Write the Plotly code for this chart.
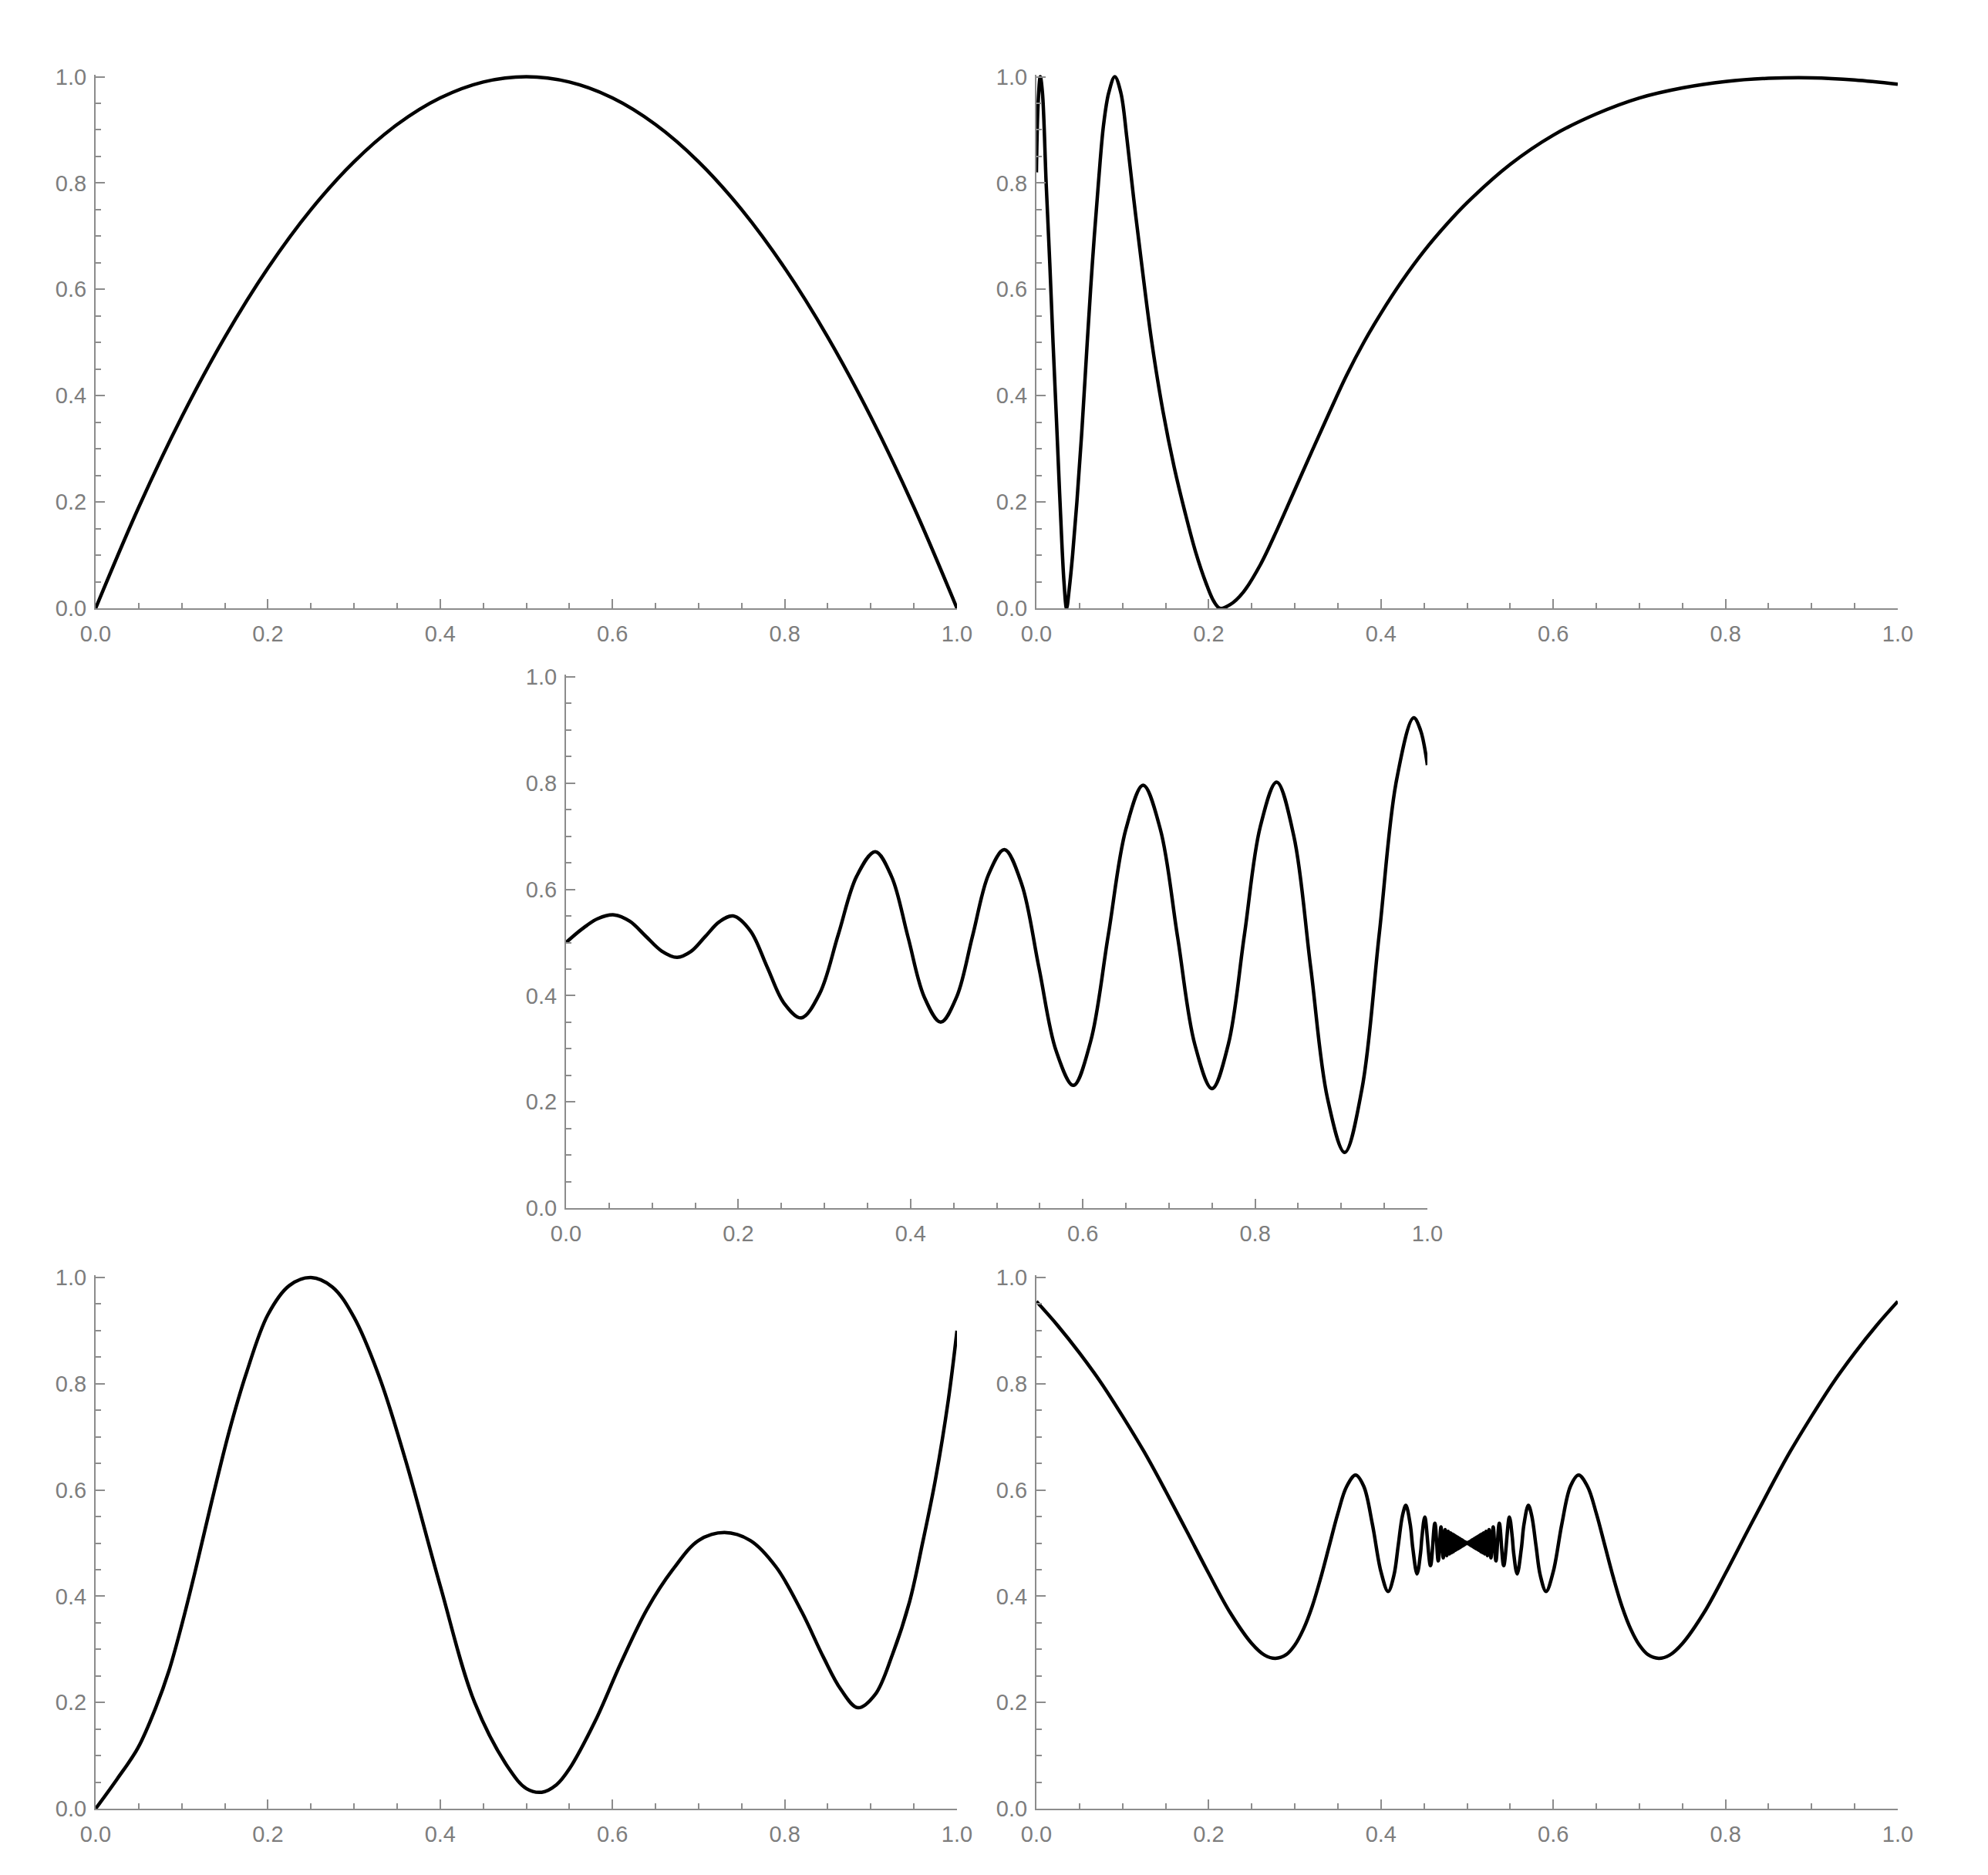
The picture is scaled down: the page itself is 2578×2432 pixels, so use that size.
import plotly.graph_objects as go

W, H = 2578, 2432          # target picture size
OFF = 8                    # page body margin
FW, FH = W - 2 * OFF, H - 2 * OFF

# ---------------- data ----------------
p1_x = [0, 0.05, 0.1, 0.15, 0.2, 0.25, 0.3, 0.35, 0.4, 0.45, 0.5,
        0.55, 0.6, 0.65, 0.7, 0.75, 0.8, 0.85, 0.9, 0.95, 1.0]
p1_y = [0, 0.19, 0.36, 0.51, 0.64, 0.75, 0.84, 0.91, 0.96, 0.99, 1.0,
        0.99, 0.96, 0.91, 0.84, 0.75, 0.64, 0.51, 0.36, 0.19, 0]

p2_x = [0, 0.002, 0.0045, 0.007, 0.0113, 0.0155, 0.0193, 0.0234, 0.0274, 0.032,
        0.035, 0.038, 0.042, 0.047, 0.053, 0.059, 0.065, 0.072, 0.078, 0.084,
        0.091, 0.098, 0.105, 0.113, 0.122, 0.134, 0.147, 0.160, 0.1726, 0.185,
        0.197, 0.206, 0.213, 0.225, 0.24, 0.26, 0.28, 0.30, 0.32, 0.34,
        0.36, 0.38, 0.40, 0.425, 0.45, 0.475, 0.5, 0.55, 0.6, 0.65, 0.7, 0.75,
        0.8, 0.85, 0.9, 0.95, 1.0]
p2_y = [0.82, 0.95, 1.0, 0.97, 0.8, 0.65, 0.5, 0.35, 0.2, 0.05,
        0.0, 0.035, 0.1, 0.2, 0.34, 0.5, 0.65, 0.8, 0.91, 0.97,
        1.0, 0.97, 0.885, 0.77, 0.65, 0.5, 0.37, 0.265, 0.18, 0.105,
        0.047, 0.013, 0.0, 0.007, 0.030, 0.082, 0.150, 0.223, 0.296, 0.368,
        0.438, 0.500, 0.555, 0.617, 0.672, 0.720, 0.763, 0.835, 0.890, 0.930,
        0.960, 0.979, 0.991, 0.997, 0.998, 0.994, 0.986]

p3_x = [0, 0.019, 0.037, 0.056, 0.074, 0.0925, 0.111, 0.129, 0.145, 0.1615,
        0.178, 0.194, 0.214, 0.2335, 0.253, 0.273, 0.2945, 0.316, 0.3375, 0.359,
        0.378, 0.397, 0.416, 0.435, 0.4535, 0.472, 0.4905, 0.509, 0.529, 0.549,
        0.569, 0.589, 0.609, 0.6295, 0.650, 0.670, 0.690, 0.710, 0.730, 0.750,
        0.769, 0.7875, 0.806, 0.825, 0.845, 0.8645, 0.884, 0.904, 0.924, 0.944,
        0.964, 0.984, 0.992, 1.0]
p3_y = [0.500, 0.526, 0.545, 0.552, 0.540, 0.512, 0.484, 0.472, 0.483, 0.511,
        0.539, 0.550, 0.522, 0.454, 0.386, 0.358, 0.404, 0.5145, 0.625, 0.671,
        0.624, 0.5105, 0.397, 0.350, 0.3975, 0.5125, 0.628, 0.675, 0.610, 0.453,
        0.296, 0.231, 0.3135, 0.5135, 0.7135, 0.796, 0.713, 0.5105, 0.308, 0.225,
        0.309, 0.5135, 0.718, 0.802, 0.700, 0.4535, 0.207, 0.105, 0.224, 0.514,
        0.804, 0.923, 0.900, 0.834]

p4_x = [0, 0.025, 0.049, 0.07, 0.085, 0.1, 0.115, 0.135, 0.155, 0.175, 0.2,
        0.225, 0.25, 0.275, 0.3, 0.33, 0.36, 0.4, 0.44, 0.48, 0.5, 0.518, 0.535,
        0.55, 0.58, 0.61, 0.64, 0.67, 0.70, 0.73, 0.76, 0.79, 0.82, 0.845,
        0.865, 0.885, 0.905, 0.925, 0.945, 0.96, 0.975, 0.99, 1.0]
p4_y = [0, 0.056, 0.114, 0.191, 0.259, 0.346, 0.443, 0.58, 0.71, 0.82, 0.93,
        0.985, 1.0, 0.982, 0.925, 0.81, 0.655, 0.42, 0.2, 0.075, 0.038, 0.031, 0.045,
        0.075, 0.165, 0.275, 0.375, 0.45, 0.505, 0.52, 0.505, 0.455, 0.37, 0.285,
        0.225, 0.19, 0.215, 0.29, 0.39, 0.5, 0.62, 0.77, 0.9]

p5_x = [0, 0.025, 0.05, 0.075, 0.1, 0.125, 0.15, 0.175, 0.2, 0.225, 0.25, 0.265,
        0.2775, 0.29, 0.30, 0.31, 0.32, 0.33, 0.34, 0.35, 0.36,
        0.3706, 0.38, 0.39, 0.40, 0.4083, 0.415, 0.42, 0.425, 0.4289, 0.434,
        0.437, 0.4419, 0.446, 0.4475, 0.4509, 0.4575, 0.4626, 0.4665, 0.4697,
        0.4723, 0.4745, 0.4764, 0.4780, 0.4795, 0.4807, 0.4818, 0.4828, 0.4837,
        0.4845, 0.4852, 0.4859, 0.4865, 0.4870, 0.4875, 0.4880, 0.4884, 0.4888,
        0.4892, 0.4896, 0.4905, 0.491, 0.4915, 0.492, 0.4925, 0.493, 0.4935,
        0.494, 0.4945, 0.495, 0.4955, 0.496, 0.4965, 0.497, 0.4975, 0.498,
        0.4985, 0.499, 0.4995, 0.5,
        0.5005, 0.501, 0.5015, 0.502, 0.5025, 0.503, 0.5035, 0.504, 0.5045,
        0.505, 0.5055, 0.506, 0.5065, 0.507, 0.5075, 0.508, 0.5085, 0.509,
        0.5095, 0.5104, 0.5108, 0.5112, 0.5116, 0.5120, 0.5125, 0.5130, 0.5135,
        0.5141, 0.5148, 0.5155, 0.5163, 0.5172, 0.5182, 0.5193, 0.5205, 0.5220,
        0.5236, 0.5255, 0.5277, 0.5303, 0.5335, 0.5374, 0.5425, 0.5491, 0.5525,
        0.554, 0.5581, 0.563, 0.566, 0.5711, 0.575, 0.58, 0.585, 0.5917, 0.60,
        0.61, 0.62, 0.6294, 0.64, 0.65, 0.66, 0.67, 0.68, 0.69, 0.70, 0.71,
        0.7225, 0.735, 0.75, 0.775, 0.80, 0.825, 0.85, 0.875, 0.90, 0.925,
        0.95, 0.975, 1.0]
p5_y = [0.955, 0.909, 0.858, 0.802, 0.739, 0.672, 0.598, 0.521, 0.443, 0.369,
        0.311, 0.289, 0.283, 0.290, 0.308, 0.338, 0.380, 0.434, 0.495, 0.556,
        0.606, 0.628, 0.607, 0.536, 0.446, 0.409, 0.439, 0.495, 0.552, 0.571,
        0.535, 0.490, 0.442, 0.482, 0.510, 0.549, 0.4575, 0.5374, 0.4665,
        0.5303, 0.4723, 0.5255, 0.4764, 0.5220, 0.4795, 0.5193, 0.4818, 0.5172,
        0.4837, 0.5155, 0.4852, 0.5141, 0.4865, 0.5130, 0.4875, 0.5120, 0.4884,
        0.5112, 0.4892, 0.5104, 0.4905, 0.509, 0.4915, 0.508, 0.4925, 0.507,
        0.4935, 0.506, 0.4945, 0.505, 0.4955, 0.504, 0.4965, 0.503, 0.4975,
        0.502, 0.4985, 0.501, 0.4995, 0.5,
        0.4995, 0.501, 0.4985, 0.502, 0.4975, 0.503, 0.4965, 0.504, 0.4955,
        0.505, 0.4945, 0.506, 0.4935, 0.507, 0.4925, 0.508, 0.4915, 0.509,
        0.4905, 0.5104, 0.4892, 0.5112, 0.4884, 0.5120, 0.4875, 0.5130, 0.4865,
        0.5141, 0.4852, 0.5155, 0.4837, 0.5172, 0.4818, 0.5193, 0.4795, 0.5220,
        0.4764, 0.5255, 0.4723, 0.5303, 0.4665, 0.5374, 0.4575, 0.549, 0.510,
        0.482, 0.442, 0.490, 0.535, 0.571, 0.552, 0.495, 0.439, 0.409, 0.446,
        0.536, 0.607, 0.628, 0.606, 0.556, 0.495, 0.434, 0.380, 0.338, 0.308,
        0.290, 0.283, 0.289, 0.311, 0.369, 0.443, 0.521, 0.598, 0.672, 0.739,
        0.802, 0.858, 0.909, 0.955]

tick_vals = [0, 0.2, 0.4, 0.6, 0.8, 1.0]
tick_text = ["0.0", "0.2", "0.4", "0.6", "0.8", "1.0"]

panels = [(p1_x, p1_y), (p2_x, p2_y), (p3_x, p3_y), (p4_x, p4_y), (p5_x, p5_y)]

# pixel boxes in the picture: x0 (value 0), x1 (value 1), y0 (value 0), y1 (value 1)
boxes = [(124, 1241, 789, 99.5), (1344, 2461, 789, 99.5), (734, 1851, 1567, 878),
         (124, 1241, 2346, 1657), (1344, 2461, 2346, 1657)]

AX = "#8c8c8c"
TXT = "#7d7d7d"
FONT = "Liberation Sans, Arial, sans-serif"
YTOP = 1.004

fig = go.Figure()
layout = dict(width=FW, height=FH, margin=dict(l=0, r=0, t=0, b=0, autoexpand=False),
              paper_bgcolor="white", plot_bgcolor="white", showlegend=False)

for i, ((xs, ys), (x0, x1, y0, y1)) in enumerate(zip(panels, boxes), start=1):
    sfx = "" if i == 1 else str(i)
    fig.add_trace(go.Scatter(
        x=xs, y=ys, mode="lines",
        line=dict(color="black", width=4.5, shape="spline", smoothing=1.0),
        xaxis="x" + sfx, yaxis="y" + sfx, hoverinfo="skip"))
    ytop_px = y1 - (YTOP - 1.0) * (y0 - y1)
    common = dict(showline=True, linecolor=AX, linewidth=2, showgrid=False, zeroline=False,
                  automargin=False,
                  ticks="inside", ticklen=12, tickwidth=2, tickcolor=AX,
                  tickvals=tick_vals, ticktext=tick_text,
                  tickfont=dict(family=FONT, size=29, color=TXT),
                  minor=dict(ticks="inside", ticklen=7, tickwidth=2, tickcolor=AX,
                             dtick=0.05, tick0=0, showgrid=False))
    layout["xaxis" + sfx] = dict(common, domain=[(x0 - OFF) / FW, (x1 - OFF) / FW],
                                 range=[0, 1], anchor="y" + sfx, ticklabelstandoff=6)
    layout["yaxis" + sfx] = dict(common, domain=[1 - (y0 - OFF) / FH, 1 - (ytop_px - OFF) / FH],
                                 range=[0, YTOP], anchor="x" + sfx, ticklabelstandoff=4)

fig.update_layout(**layout)
fig.write_html("out.html")
